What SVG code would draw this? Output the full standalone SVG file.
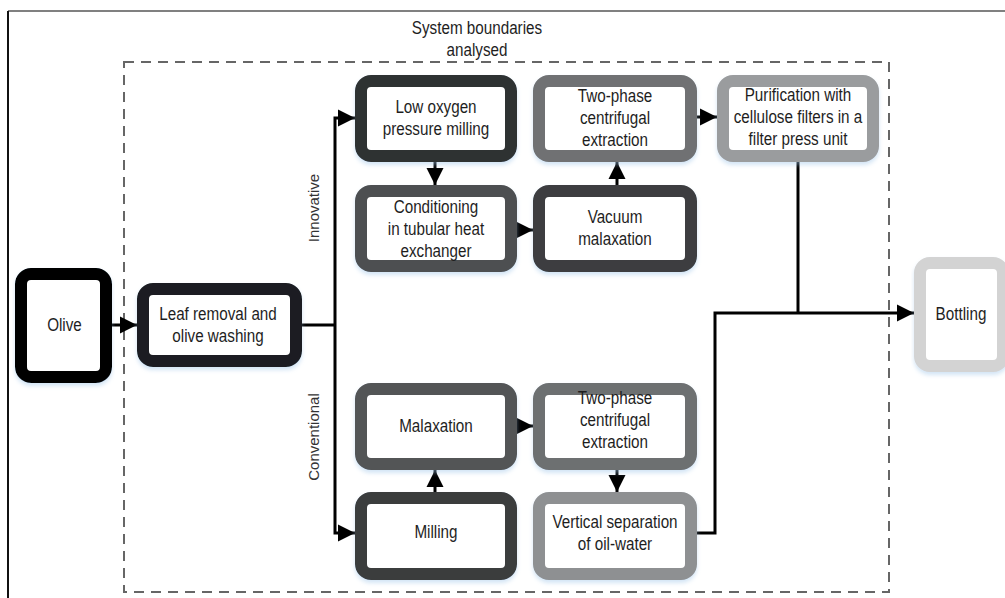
<svg xmlns="http://www.w3.org/2000/svg" width="1005" height="598" viewBox="0 0 1005 598">
<style>
.box{fill:#fff;stroke-width:12;filter:url(#sh)}
.t{font-family:"Liberation Sans",Arial,sans-serif;font-size:17.5px;fill:#1e1e1e;text-anchor:middle}
.lbl{font-family:"Liberation Sans",Arial,sans-serif;font-size:15px;fill:#333;text-anchor:middle}
.c{fill:none;stroke:#000;stroke-width:3}
.a{marker-end:url(#ah)}
</style>
<defs>
<marker id="ah" viewBox="0 0 10 10" refX="10" refY="5" markerWidth="17" markerHeight="18" markerUnits="userSpaceOnUse" orient="auto">
<path d="M0,0 L10,5 L0,10 z" fill="#000"/>
</marker>
<filter id="sh" x="-10%" y="-10%" width="120%" height="130%">
<feDropShadow dx="0" dy="3" stdDeviation="2" flood-color="#9ec5e8" flood-opacity="0.45"/>
</filter>
</defs>
<rect width="1005" height="598" fill="#fff"/>
<path d="M8,11 H1005" stroke="#808080" stroke-width="2" fill="none"/>
<path d="M8,11 V598" stroke="#111" stroke-width="2" fill="none"/>
<g id="boundary">
<rect x="124" y="62" width="765" height="530" fill="none" stroke="#666" stroke-width="2" stroke-dasharray="10,7"/>
<text class="t" transform="matrix(0.87 0 0 1 62.01 0)"><tspan x="477" y="34">System boundaries</tspan><tspan x="477" y="56">analysed</tspan></text>
</g>
<g id="labels">
<text class="lbl" transform="translate(319,208) rotate(-90)">Innovative</text>
<text class="lbl" transform="translate(319,437) rotate(-90)">Conventional</text>
</g>
<g id="connectors">
<path class="c a" d="M111,325 H137"/>
<path class="c" d="M302,325 H335"/>
<path class="c a" d="M335,325 V118 H355"/>
<path class="c a" d="M335,325 V533 H355"/>
<path class="c a" d="M435,162 V185"/>
<path class="c a" d="M517,230 H533"/>
<path class="c a" d="M617,185 V162"/>
<path class="c a" d="M697,117 H717"/>
<path class="c" d="M798,162 V313"/>
<path class="c a" d="M697,533 H715 V313 H914"/>
<path class="c a" d="M435,492 V470"/>
<path class="c a" d="M517,426 H533"/>
<path class="c a" d="M617,470 V492"/>
</g>
<g id="olive">
<rect class="box" x="21" y="274" width="85" height="103" rx="10" stroke="#000"/>
<text class="t" transform="matrix(0.87 0 0 1 8.39 0)"><tspan x="64.5" y="331">Olive</tspan></text>
</g>
<g id="leaf">
<rect class="box" x="143" y="289" width="153" height="72" rx="10" stroke="#1c1e20"/>
<text class="t" transform="matrix(0.87 0 0 1 28.34 0)"><tspan x="218" y="320">Leaf removal and</tspan><tspan x="218" y="342">olive washing</tspan></text>
</g>
<g id="low-oxygen">
<rect class="box" x="361" y="81" width="150" height="75" rx="10" stroke="#2e3133"/>
<text class="t" transform="matrix(0.87 0 0 1 56.68 0)"><tspan x="436" y="113">Low oxygen</tspan><tspan x="436" y="135">pressure milling</tspan></text>
</g>
<g id="conditioning">
<rect class="box" x="361" y="191" width="150" height="75" rx="10" stroke="#4d4f51"/>
<text class="t" transform="matrix(0.87 0 0 1 56.68 0)"><tspan x="436" y="213">Conditioning</tspan><tspan x="436" y="235">in tubular heat</tspan><tspan x="436" y="257">exchanger</tspan></text>
</g>
<g id="two-phase-innovative">
<rect class="box" x="539" y="81" width="152" height="75" rx="10" stroke="#6f7173"/>
<text class="t" transform="matrix(0.87 0 0 1 79.95 0)"><tspan x="615" y="102">Two-phase</tspan><tspan x="615" y="124">centrifugal</tspan><tspan x="615" y="146">extraction</tspan></text>
</g>
<g id="vacuum-malaxation">
<rect class="box" x="539" y="191" width="152" height="75" rx="10" stroke="#3c3e40"/>
<text class="t" transform="matrix(0.87 0 0 1 79.95 0)"><tspan x="615" y="223">Vacuum</tspan><tspan x="615" y="245">malaxation</tspan></text>
</g>
<g id="purification">
<rect class="box" x="723" y="81" width="150" height="75" rx="10" stroke="#9a9c9e"/>
<text class="t" transform="matrix(0.87 0 0 1 103.74 0)"><tspan x="798" y="101">Purification with</tspan><tspan x="798" y="123">cellulose filters in a</tspan><tspan x="798" y="145">filter press unit</tspan></text>
</g>
<g id="bottling">
<rect class="box" x="920" y="263" width="83" height="103" rx="10" stroke="#d3d3d3"/>
<text class="t" transform="matrix(0.87 0 0 1 124.93 0)"><tspan x="961" y="320">Bottling</tspan></text>
</g>
<g id="malaxation">
<rect class="box" x="361" y="389" width="150" height="75" rx="10" stroke="#525456"/>
<text class="t" transform="matrix(0.87 0 0 1 56.68 0)"><tspan x="436" y="432">Malaxation</tspan></text>
</g>
<g id="two-phase-conventional">
<rect class="box" x="539" y="389" width="152" height="75" rx="10" stroke="#6d6f71"/>
<text class="t" transform="matrix(0.87 0 0 1 79.95 0)"><tspan x="615" y="404">Two-phase</tspan><tspan x="615" y="426">centrifugal</tspan><tspan x="615" y="448">extraction</tspan></text>
</g>
<g id="milling">
<rect class="box" x="361" y="498" width="150" height="76" rx="10" stroke="#3a3c3e"/>
<text class="t" transform="matrix(0.87 0 0 1 56.68 0)"><tspan x="436" y="538">Milling</tspan></text>
</g>
<g id="vertical-separation">
<rect class="box" x="539" y="498" width="152" height="76" rx="10" stroke="#8e9092"/>
<text class="t" transform="matrix(0.87 0 0 1 79.95 0)"><tspan x="615" y="528">Vertical separation</tspan><tspan x="615" y="550">of oil-water</tspan></text>
</g>
</svg>
